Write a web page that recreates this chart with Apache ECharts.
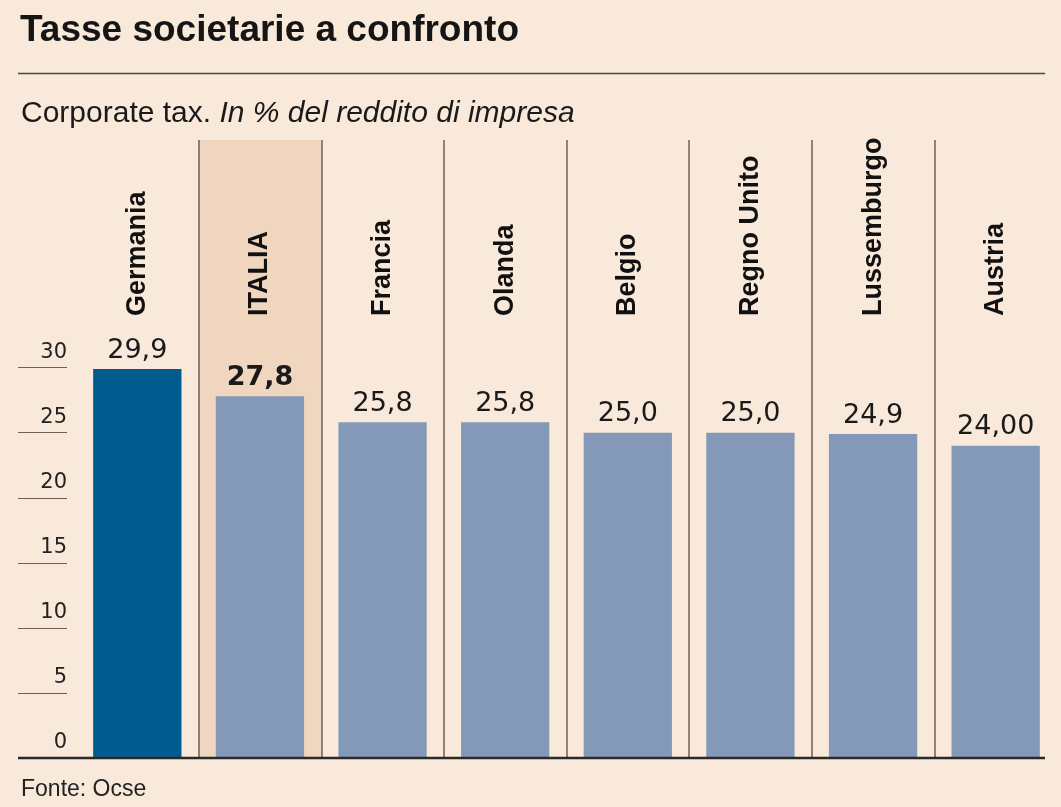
<!DOCTYPE html>
<html><head><meta charset="utf-8">
<script src="https://cdn.jsdelivr.net/npm/echarts@6/dist/echarts.min.js"></script>
<style>html,body{margin:0;padding:0;background:#f9e9da;} #c{width:1061px;height:807px;}</style>
</head><body><div id="c"></div>
<script>
const categories = ['Germania','ITALIA','Francia','Olanda','Belgio','Regno Unito','Lussemburgo','Austria'];
const values = [29.9, 27.8, 25.8, 25.8, 25.0, 25.0, 24.9, 24.0];
const valueLabels = ['29,9','27,8','25,8','25,8','25,0','25,0','24,9','24,00'];
const yTicks = [0, 5, 10, 15, 20, 25, 30];
const highlightCat = 'ITALIA';
const leaderCat = 'Germania';

const chart = echarts.init(document.getElementById('c'), null, {renderer: 'canvas'});
const option = {
  animation: false,
  backgroundColor: '#f9e9da',
  title: [
    {text: 'Tasse societarie a confronto', left: 15, top: 7,
     textStyle: {fontFamily: 'Liberation Sans', fontWeight: 'bold', fontSize: 37, color: '#151515'}},
    {text: '{a|Corporate tax. }{b|In % del reddito di impresa}', left: 16, top: 94,
     textStyle: {fontWeight: 'normal', rich: {
       a: {fontFamily: 'Liberation Sans', fontWeight: 'normal', fontSize: 30, color: '#1a1a1a'},
       b: {fontFamily: 'Liberation Sans', fontWeight: 'normal', fontSize: 30, fontStyle: 'italic', color: '#1a1a1a'}
     }}},
    {text: 'Fonte: Ocse', left: 16, top: 773,
     textStyle: {fontFamily: 'Liberation Sans', fontWeight: 'normal', fontSize: 23, color: '#222'}}
  ],
  grid: {left: 76, right: 4, top: 140, bottom: 49, outerBoundsMode: 'none'},
  xAxis: {
    type: 'category', data: categories, position: 'top',
    axisLine: {show: false}, axisTick: {show: false},
    axisLabel: {interval: 0, rotate: 90, margin: -176, fontFamily: 'Liberation Sans',
      fontWeight: 'bold', fontSize: 27, color: '#111'},
    splitLine: {show: true, interval: 0, showMinLine: false, showMaxLine: false,
      lineStyle: {color: '#6e5e55', width: 1.5}},
    splitArea: {show: true, interval: 0,
      areaStyle: {color: categories.map(c => c === highlightCat ? '#f0d6be' : 'rgba(0,0,0,0)')}}
  },
  yAxis: {
    type: 'value', min: 0, max: 47.5, interval: 5, position: 'left', offset: 9,
    axisLine: {show: false}, splitLine: {show: false},
    axisTick: {show: true, length: 49, customValues: yTicks, lineStyle: {color: '#6e5e55', width: 1}},
    axisLabel: {customValues: yTicks, margin: 0, verticalAlign: 'bottom', padding: [0, 0, 5, 0],
      fontFamily: 'DejaVu Sans', fontSize: 21, color: '#222'}
  },
  series: [{
    type: 'bar', barWidth: '72%',
    data: values.map((v, i) => ({
      value: v,
      itemStyle: {color: categories[i] === leaderCat ? '#005b8f' : '#8499b7'},
      label: {fontWeight: categories[i] === highlightCat ? 'bold' : 'normal'}
    })),
    label: {show: true, position: 'top', distance: 5, fontFamily: 'DejaVu Sans', fontSize: 27,
      color: '#1a1a1a', formatter: p => valueLabels[p.dataIndex]}
  }]
};
chart.setOption(option);
const y0 = chart.convertToPixel({yAxisIndex: 0}, 0);
chart.setOption({graphic: [
  {type: 'line', shape: {x1: 18, y1: 73.5, x2: 1045, y2: 73.5}, style: {stroke: '#4a4540', lineWidth: 1.5}},
  {type: 'line', shape: {x1: 18, y1: y0, x2: 1045, y2: y0}, style: {stroke: '#2a2a2a', lineWidth: 2.5}, z: 10}
]});
</script></body></html>
